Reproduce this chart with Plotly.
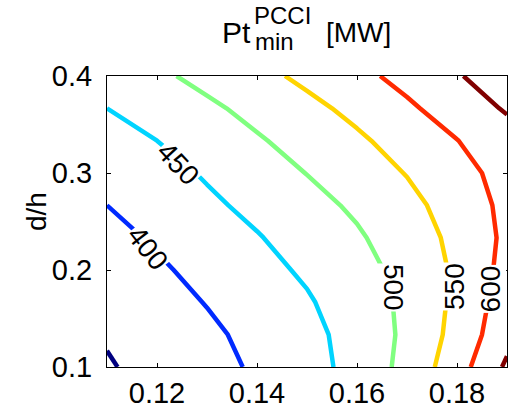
import plotly.graph_objects as go

# grid of the underlying field
x_vals = [0.11, 0.12, 0.13, 0.14, 0.15, 0.16, 0.17, 0.18, 0.19]
y_vals = [0.1, 0.1333, 0.1667, 0.2, 0.2333, 0.2667, 0.3, 0.3333, 0.3667, 0.4]
z_rows = [
    [346, 365, 385, 406, 432, 466, 515, 578, 658],
    [354, 372, 390, 414, 437, 467, 510, 566, 634],
    [359, 381, 402, 424, 445, 475, 510, 561, 624],
    [372, 393, 414, 435, 457, 483, 515, 558, 616],
    [385, 406, 426, 447, 470, 494, 525, 562, 610],
    [400, 420, 441, 462, 484, 508, 536, 571, 612],
    [413, 433, 455, 478, 501, 526, 552, 584, 616],
    [431, 450, 472, 495, 518, 542, 570, 599, 629],
    [450, 471, 491, 514, 537, 563, 592, 623, 655],
    [467, 491, 514, 536, 561, 587, 615, 646, 677],
]
levels_start, levels_end, levels_step = 350, 650, 50

# contour labels
label_text = ["400", "450", "500", "550", "600"]
label_x = [0.1180, 0.1242, 0.1672, 0.1796, 0.1866]
label_y = [0.2227, 0.3100, 0.1825, 0.1825, 0.1800]
label_angle = [52, 47, 90, -90, -90]

x_ticks = [0.12, 0.14, 0.16, 0.18]
y_ticks = [0.1, 0.2, 0.3, 0.4]

jet7 = ["rgb(0,0,128)", "rgb(0,42,255)", "rgb(0,212,255)", "rgb(128,255,128)",
        "rgb(255,212,0)", "rgb(255,42,0)", "rgb(128,0,0)"]
cscale = [[i / 6, c] for i, c in enumerate(jet7)]

FONT = "Arial, Liberation Sans, sans-serif"

fig = go.Figure()
fig.add_trace(go.Contour(
    x=x_vals, y=y_vals, z=z_rows,
    autocontour=False,
    contours=dict(start=levels_start, end=levels_end, size=levels_step,
                  coloring="lines", showlabels=False),
    colorscale=cscale, showscale=False,
    line=dict(width=4.5, smoothing=0),
    hoverinfo="skip",
))

W0, W1, T0, B0 = 107, 507, 76, 367


def px(xp):
    return (xp - W0) / (W1 - W0)


def py(yp):
    return (B0 - yp) / (B0 - T0)


annotations = []
for t, xx, yy, a in zip(label_text, label_x, label_y, label_angle):
    annotations.append(dict(x=xx, y=yy, xref="x", yref="y", text=t, textangle=a,
                            showarrow=False, bgcolor="white", borderpad=0,
                            font=dict(family=FONT, size=28, color="black")))

# title pieces
annotations += [
    dict(x=px(253), y=py(32), xref="paper", yref="paper", text="Pt", xanchor="right",
         yanchor="middle", showarrow=False, font=dict(family=FONT, size=30, color="black")),
    dict(x=px(252), y=py(15), xref="paper", yref="paper", text="PCCI", xanchor="left",
         yanchor="middle", showarrow=False, font=dict(family=FONT, size=24, color="black")),
    dict(x=px(253), y=py(42), xref="paper", yref="paper", text="min", xanchor="left",
         yanchor="middle", showarrow=False, font=dict(family=FONT, size=24, color="black")),
    dict(x=px(324), y=py(32), xref="paper", yref="paper", text="[MW]", xanchor="left",
         yanchor="middle", showarrow=False, font=dict(family=FONT, size=28, color="black")),
    dict(x=px(36), y=py(212), xref="paper", yref="paper", text="d/h", textangle=-90,
         xanchor="center", yanchor="middle", showarrow=False,
         font=dict(family=FONT, size=28, color="black")),
]

axis_common = dict(showline=True, linecolor="black", linewidth=1, mirror="ticks",
                   ticks="inside", ticklen=4, tickcolor="black", showgrid=False,
                   zeroline=False, tickfont=dict(family=FONT, size=29, color="black"))

fig.update_layout(
    width=510, height=409,
    margin=dict(l=W0, r=510 - W1, t=T0, b=409 - B0, autoexpand=False),
    paper_bgcolor="white", plot_bgcolor="white",
    showlegend=False,
    xaxis=dict(range=[0.11, 0.19], tickvals=x_ticks, ticktext=[f"{v:.2f}" for v in x_ticks],
               automargin=False, **axis_common),
    yaxis=dict(range=[0.1, 0.4], tickvals=y_ticks, ticktext=[f"{v:.1f}" for v in y_ticks],
               ticklabelstandoff=8, automargin=False, **axis_common),
    annotations=annotations,
)

fig.write_html("out.html", config={"displayModeBar": False},
               post_script="document.body.style.margin='0';document.body.style.overflow='hidden';")
